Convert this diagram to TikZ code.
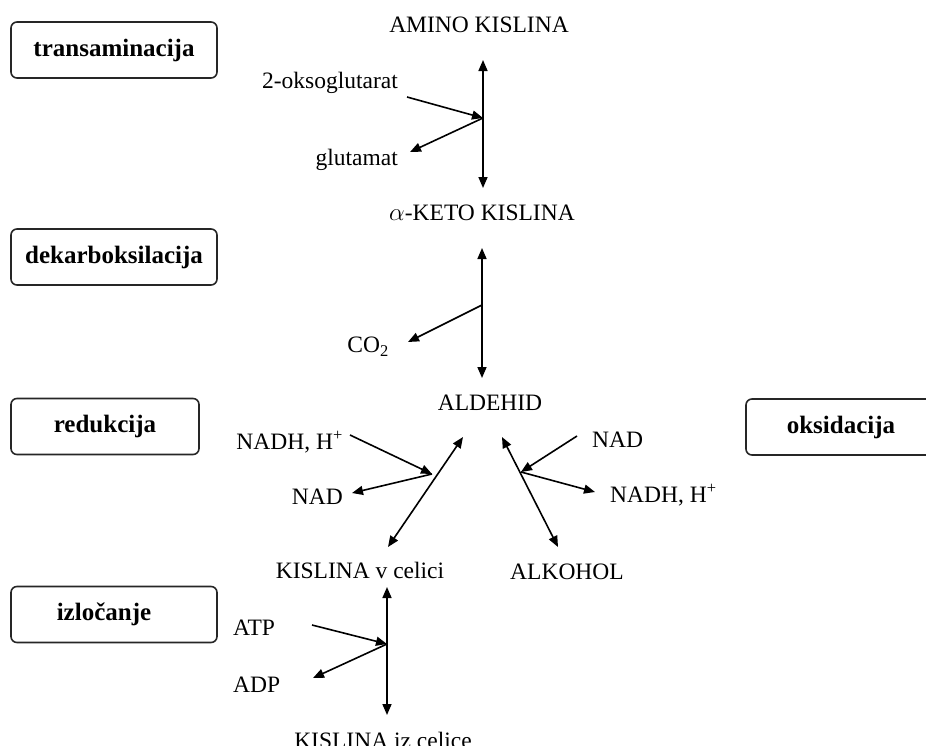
\documentclass[tikz,border=0pt]{standalone}
\usepackage{fontspec}
\setmainfont{Liberation Serif}
\usetikzlibrary{arrows.meta, positioning}

\begin{document}
\begin{tikzpicture}[x=1pt, y=-1pt, font=\fontsize{23.5}{28}\selectfont,
    sp/.style={inner sep=0pt},
    stepbox/.style={draw=black!85, line width=1.6pt, rounded corners=6pt,
      minimum height=56pt, font=\fontsize{25}{28}\selectfont\bfseries},
    arr/.style={line width=1.6pt, -{Triangle[length=11pt, width=9pt]}},
    dbl/.style={line width=1.6pt, {Triangle[length=11pt, width=9pt]}-{Triangle[length=11pt, width=9pt]}}]
  \useasboundingbox (0,0) rectangle (926,745);
  % postopki
  \node[stepbox, minimum width=206pt] (trans) at (114,50) {transaminacija};
  \node[stepbox, minimum width=206pt] (dekarb) at (114,257) {dekarboksilacija};
  \node[stepbox, minimum width=188pt] (red) at (105,426.5) {redukcija};
  \node[stepbox, minimum width=190pt] (oks) at (841,427) {oksidacija};
  \node[stepbox, minimum width=206pt] (izl) at (114,614.5) {izločanje\hspace*{20pt}};
  % snovi
  \node[sp] (am) at (479,25) {AMINO KISLINA};
  \node[sp] (keto) at (482,213) {$\alpha$-KETO KISLINA};
  \node[sp] (ald) at (490,403) {ALDEHID};
  \node[sp] (kvc) at (360,570) {KISLINA v celici};
  \node[sp] (alk) at (567,572) {ALKOHOL};
  \node[sp] (kic) at (383,740) {KISLINA iz celice};
  \node[sp, anchor=east] (oxo) at (398,83) {2-oksoglutarat};
  \node[sp, anchor=east] (glu) at (398,160) {glutamat};
  \node[sp, anchor=east] (co2) at (389,347) {CO\textsubscript{2}};
  \node[sp, anchor=east] (nadhl) at (343,442) {NADH, H\textsuperscript{+}};
  \node[sp, anchor=east] (nadl) at (343,497) {NAD};
  \node[sp, anchor=west] (nadr) at (592,440) {NAD};
  \node[sp, anchor=west] (nadhr) at (610,495) {NADH, H\textsuperscript{+}};
  \node[sp, anchor=west] (atp) at (233,628) {ATP};
  \node[sp, anchor=west] (adp) at (233,685) {ADP};
  % transaminacija
  \coordinate (t1) at (483,60); \coordinate (b1) at (483,188);
  \coordinate (j1) at (483,118);
  \coordinate (oxo-e) at (407,97); \coordinate (glu-e) at (410,152);
  \draw[dbl] (t1) -- (b1);
  \draw[arr] (oxo-e) -- (j1);
  \draw[arr] (j1) -- (glu-e);
  % dekarboksilacija
  \coordinate (t2) at (482,248); \coordinate (b2) at (482,378);
  \coordinate (j2) at (482,305);
  \coordinate (co2-e) at (408,342);
  \draw[dbl] (t2) -- (b2);
  \draw[arr] (j2) -- (co2-e);
  % redukcija
  \coordinate (t3) at (463,437); \coordinate (b3) at (388,547);
  \coordinate (j3) at (432,474);
  \coordinate (nadhl-e) at (350,435); \coordinate (nadl-e) at (352,493);
  \draw[dbl] (t3) -- (b3);
  \draw[arr] (nadhl-e) -- (j3);
  \draw[arr] (j3) -- (nadl-e);
  % oksidacija
  \coordinate (t4) at (502,437); \coordinate (b4) at (558,547);
  \coordinate (j4) at (521,472);
  \coordinate (nadr-e) at (577,436); \coordinate (nadhr-e) at (595,492);
  \draw[dbl] (t4) -- (b4);
  \draw[arr] (nadr-e) -- (j4);
  \draw[arr] (j4) -- (nadhr-e);
  % izlocanje
  \coordinate (t5) at (387,587); \coordinate (b5) at (387,715);
  \coordinate (j5) at (387,644);
  \coordinate (atp-e) at (312,625); \coordinate (adp-e) at (313,678);
  \draw[dbl] (t5) -- (b5);
  \draw[arr] (atp-e) -- (j5);
  \draw[arr] (j5) -- (adp-e);
\end{tikzpicture}
\end{document}
